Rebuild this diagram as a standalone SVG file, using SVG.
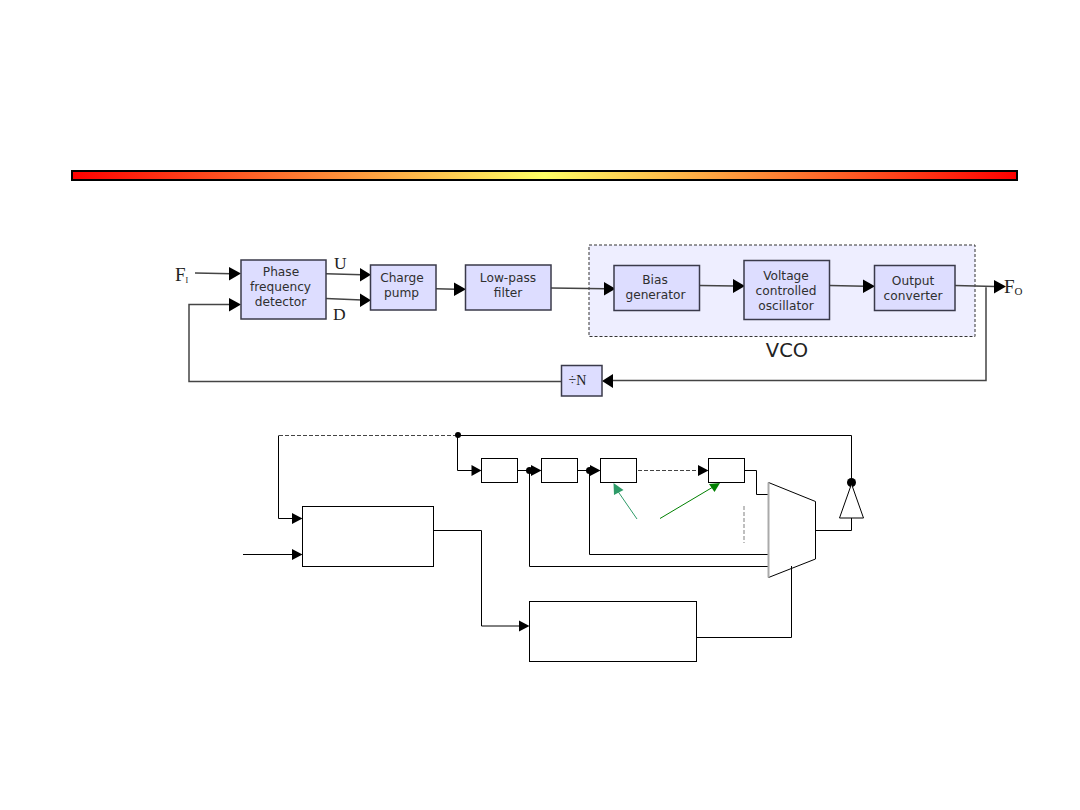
<svg xmlns="http://www.w3.org/2000/svg" width="1080" height="810" viewBox="0 0 1080 810">
<style>
.b{fill:#ddddff;stroke:#3a3a4a;stroke-width:1.5}
.t{font-family:"DejaVu Sans",sans-serif;font-size:12.2px;fill:#2f2f2f;text-anchor:middle}
.s{font-family:"Liberation Serif",serif;fill:#222}
.c{fill:none;stroke:#444;stroke-width:1.5}
.w{fill:#fff;stroke:#000;stroke-width:1}
.k{fill:none;stroke:#000;stroke-width:1}
.d{fill:none;stroke:#444;stroke-width:1.2;stroke-dasharray:4 2}
</style>
<defs>
<linearGradient id="g" x1="0" x2="1" y1="0" y2="0"><stop offset="0" stop-color="#ff0000"/><stop offset="0.5" stop-color="#ffff66"/><stop offset="1" stop-color="#ff0000"/></linearGradient>
</defs>
<rect id="bar" x="72" y="171" width="945" height="9" fill="url(#g)" stroke="#000" stroke-width="2"/>
<g id="vco"><rect x="589" y="245" width="386" height="91.5" fill="#eeeeff" stroke="#333" stroke-width="1" stroke-dasharray="3 2"/><text x="787" y="357" font-family="DejaVu Sans,sans-serif" font-size="19.5" fill="#222" text-anchor="middle">VCO</text></g>
<g id="connectors">
<path class="c" d="M195 273 L232 273.700M326 273.800 L362 274.800M326 298.500 L362 300M436 288.700 L456 289.300M551 288 L606 288.800M700 285.600 L735 286M830 285.600 L865 286.300M955 285.600 L995 286.600M986 286.500 V380.500 H610M561.500 381.500 H189 V304.500 H232"/>
<path fill="#000" d="M229 267 L241 273.500 L229 280.500ZM229 298 L241 304.500 L229 311.500ZM360 268 L371 274.800 L360 281.500ZM360 293.500 L371 300.300 L360 307ZM454 282.500 L466 289.300 L454 296ZM604 282 L615.500 288.800 L604 295.500ZM733 279 L745 286 L733 293ZM863 279.500 L875 286.300 L863 293ZM994 280 L1006 286.600 L994 293.500ZM613 374 L602 381 L613 388Z"/>
<path class="d" d="M279 435.500 H456M638 470.500 H700"/>
<path d="M744 506 V543" fill="none" stroke="#aaa" stroke-width="1.500" stroke-dasharray="4 2"/>
<path class="k" d="M457.500 435.500 H851.500 V484M457.500 435.500 V470.500 H474M518 470.500 H534M578 470.500 H592M745 470.500 H756.500 V494.500 H768M529.500 470.500 V566.500 H768M589.500 470.500 V554.500 H768M278.500 435.500 V518.500 H294M243 554.500 H294M434 530.500 H481.500 V626 H521M697 637.500 H791.500 V566M816 530.500 H851.500 V518"/>
<path fill="#000" d="M292 513 L302.500 518.500 L292 524ZM292 549 L302.500 554.500 L292 560ZM471.500 465 L481.500 470.500 L471.500 476ZM531 465 L541.500 470.500 L531 476ZM590 465 L600.500 470.500 L590 476ZM698 465 L708.500 470.500 L698 476ZM519 620.500 L529.500 626 L519 631.500Z"/>
<circle cx="458" cy="435" r="3" fill="#000"/><circle cx="529.500" cy="470.500" r="3.500" fill="#000"/><circle cx="589.500" cy="470.500" r="3.500" fill="#000"/><circle cx="851.500" cy="482.500" r="4.500" fill="#000"/>
<path d="M637 519 L617 490" stroke="#2e9b68" fill="none"/><path fill="#2e9b68" d="M613.500 483 L623.500 490 L614 495Z"/>
<path d="M660 518.500 L713 487" stroke="#008000" fill="none"/><path fill="#008000" d="M720 483 L714.500 492 L709 484Z"/>
</g>
<g id="pfd"><rect class="b" x="241" y="260" width="85" height="59"/><text class="t" x="281" y="276">Phase</text><text class="t" x="280.500" y="291">frequency</text><text class="t" x="280.500" y="306">detector</text></g>
<g id="pump"><rect class="b" x="370.500" y="265" width="65.500" height="45"/><text class="t" x="402" y="282">Charge</text><text class="t" x="401.500" y="297">pump</text></g>
<g id="lpf"><rect class="b" x="465.500" y="265" width="85.500" height="45"/><text class="t" x="508" y="282">Low-pass</text><text class="t" x="508" y="297">filter</text></g>
<g id="bias"><rect class="b" x="614" y="265.500" width="85.500" height="45"/><text class="t" x="655" y="283.500">Bias</text><text class="t" x="655.500" y="298.500">generator</text></g>
<g id="osc"><rect class="b" x="744" y="260.500" width="85.500" height="59"/><text class="t" x="786" y="279.500">Voltage</text><text class="t" x="786" y="294.500">controlled</text><text class="t" x="786" y="309.500">oscillator</text></g>
<g id="out"><rect class="b" x="874.500" y="265.500" width="80.500" height="45"/><text class="t" x="913" y="285">Output</text><text class="t" x="913" y="299.500">converter</text></g>
<g id="div"><rect class="b" x="561.500" y="365.500" width="40.500" height="30.500"/><text class="s" x="577.500" y="385" font-size="14" text-anchor="middle">÷N</text></g>
<g id="labels">
<text class="s" x="175" y="281" font-size="19">F<tspan font-size="8" dy="2">I</tspan></text>
<text class="s" x="334" y="269" font-size="17.500">U</text>
<text class="s" x="333" y="320" font-size="17.500">D</text>
<text class="s" x="1004" y="293" font-size="19">F<tspan font-size="11" dy="2">O</tspan></text>
</g>
<g id="b1"><rect class="w" x="481.500" y="458.500" width="36" height="24"/></g>
<g id="b2"><rect class="w" x="541.500" y="458.500" width="36" height="24"/></g>
<g id="b3"><rect class="w" x="600.500" y="458.500" width="36" height="24"/></g>
<g id="b4"><rect class="w" x="708.500" y="458.500" width="36" height="24"/></g>
<g id="pd"><rect class="w" x="302.500" y="506.500" width="131" height="60"/></g>
<g id="ctl"><rect class="w" x="529.500" y="601.500" width="167" height="60"/></g>
<g id="mux"><path fill="#fff" stroke="#000" d="M768.500 482.500 L815.500 501.500 V559 L768.500 577.500"/><path d="M768.500 482.500 V577.500" stroke="#aaa" stroke-width="2" fill="none"/></g>
<path d="M791.500 566 V578" stroke="#000" fill="none"/>
<g id="buf"><path class="w" d="M851.500 484 L863.500 518 H839.500Z"/></g>
</svg>
